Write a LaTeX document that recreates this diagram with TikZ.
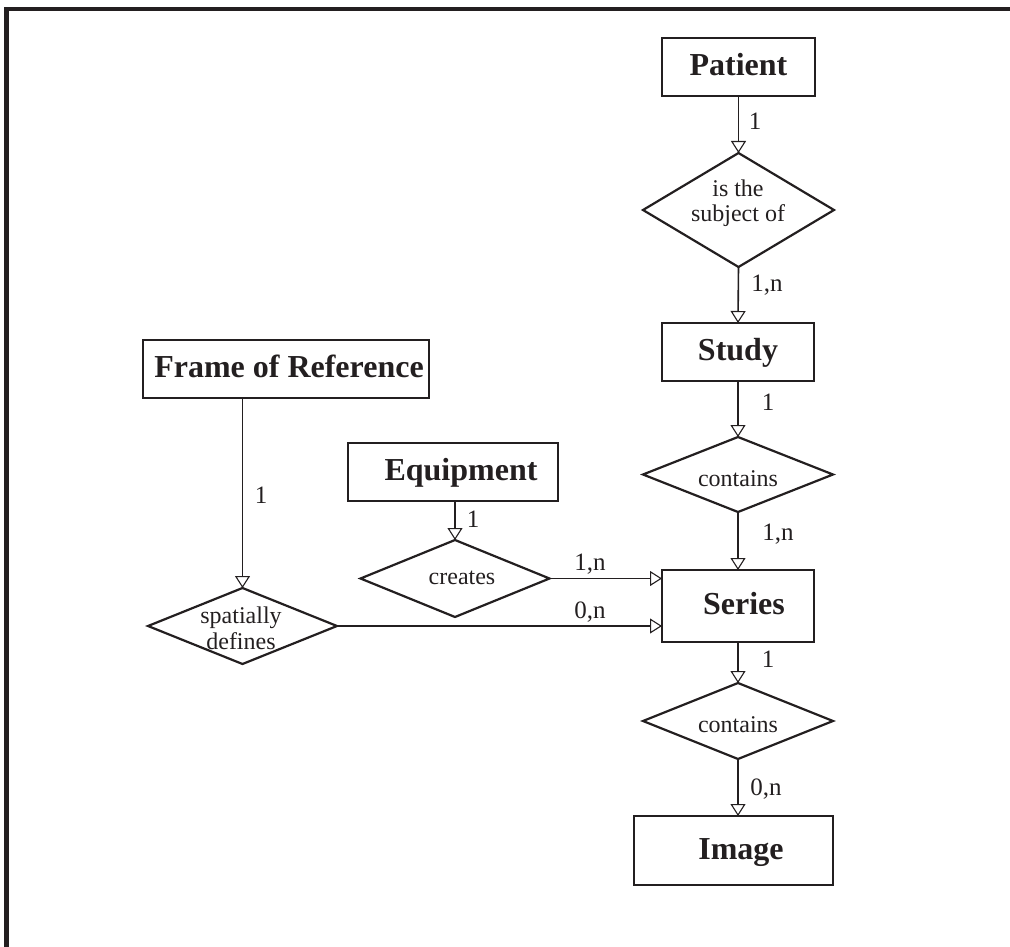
\documentclass[tikz,border=0pt]{standalone}
\usepackage{fontspec}
\setmainfont{Liberation Serif}
\usetikzlibrary{shapes.geometric,arrows.meta}
\definecolor{ink}{RGB}{35,31,32}
\begin{document}
\begin{tikzpicture}[x=1pt,y=-1pt,
  entity/.style={draw=ink,text=ink,line width=1.8pt,rectangle,inner sep=0pt,outer sep=0pt,
    font=\fontsize{32}{38}\selectfont\bfseries,text height=24pt,text depth=7pt},
  relation/.style={draw=ink,line width=2.2pt,diamond,inner sep=0pt,outer sep=0pt,minimum width=190pt},
  reltext/.style={text=ink,inner sep=0pt,font=\fontsize{24}{25}\selectfont,align=center},
  card/.style={text=ink,inner sep=0pt,anchor=base,font=\fontsize{25}{30}\selectfont},
  conn/.style={draw=ink,line width=1.6pt,-{Triangle[open,length=12pt,width=15pt,line width=1.1pt]}}]
\useasboundingbox (0,0) rectangle (1010,947);
% frame
\draw[ink,line width=4.5pt] (6.5,947) -- (6.5,9) -- (1010,9);

% entities
\node[entity,minimum width=153pt,minimum height=58pt] (pat) at (738.5,67) {Patient};
\node[entity,minimum width=152pt,minimum height=58pt] (study) at (738,352) {Study};
\node[entity,minimum width=152pt,minimum height=72pt] (series) at (738,606) {\kern12pt Series};
\node[entity,minimum width=199pt,minimum height=69pt] (image) at (733.5,850.5) {\kern15pt Image};
\node[entity,minimum width=210pt,minimum height=58pt] (eq) at (453,472) {\kern16pt Equipment};
\node[entity,minimum width=286pt,minimum height=58pt] (frame) at (286,369) {\kern6pt Frame of Reference};

% relations
\node[relation,minimum height=114pt,minimum width=191pt] (isd) at (738.5,210) {};
\node[relation,minimum height=75pt] (con1) at (738,474.5) {};
\node[relation,minimum height=76pt] (con2) at (738,721) {};
\node[relation,minimum height=77pt,minimum width=189pt] (cr) at (455,578.5) {};
\node[relation,minimum height=76pt,minimum width=189pt] (sd) at (242.5,626) {};

% relation texts
\node[reltext] (isdt) at (738,203) {is the\\subject of};
\node[reltext,anchor=base] (con1t) at (738,486) {contains};
\node[reltext,anchor=base] (con2t) at (738,732) {contains};
\node[reltext,anchor=base] (crt) at (462,584) {creates};
\node[reltext,font=\fontsize{24}{26}\selectfont] (sdt) at (241,628) {spatially\\defines};

% connectors
\draw[conn] (pat.south) -- (isd.north);
\draw[conn] (isd.south) -- (study.north);
\draw[conn] (study.south) -- (con1.north);
\draw[conn] (con1.south) -- (series.north);
\draw[conn] (series.south) -- (con2.north);
\draw[conn] (con2.south) -- (con2.south |- image.north);
\draw[conn] (eq.south -| cr.north) -- (cr.north);
\draw[conn] (cr.east) -- (cr.east -| series.west);
\draw[conn] (frame.south -| sd.north) -- (sd.north);
\draw[conn] (sd.east) -- (sd.east -| series.west);

% cardinalities
\node[card] (c1) at (755,130) {1};
\node[card] (c2) at (767,291) {1,n};
\node[card] (c3) at (768,410) {1};
\node[card] (c4) at (778,540) {1,n};
\node[card] (c5) at (768,667) {1};
\node[card] (c6) at (766,795) {0,n};
\node[card] (c7) at (473,527) {1};
\node[card] (c8) at (590,570) {1,n};
\node[card] (c9) at (590,618) {0,n};
\node[card] (c10) at (261,503) {1};
\end{tikzpicture}
\end{document}
